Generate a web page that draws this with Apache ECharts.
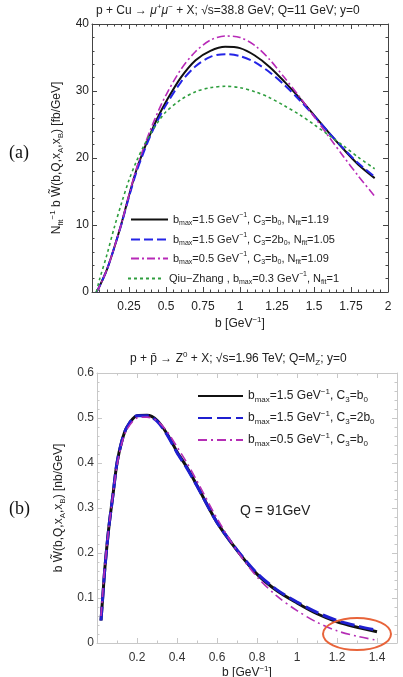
<!doctype html>
<html>
<head>
<meta charset="UTF-8" />
<title>b W(b) curves</title>
<script src="https://cdn.jsdelivr.net/npm/echarts@6/dist/echarts.min.js"></script>
<style>
  html, body { margin: 0; padding: 0; background: #fff; }
  #main { width: 403px; height: 677px; }
</style>
</head>
<body>
<div id="main"></div>
<script>
// ---- panel (a): p + Cu, Q = 11 GeV ----
const bA = [0.03, 0.05, 0.1, 0.15, 0.2, 0.25, 0.3, 0.35, 0.4, 0.45, 0.5, 0.6, 0.7, 0.8, 0.9, 1.0, 1.1, 1.2, 1.3, 1.4, 1.5, 1.6, 1.7, 1.8, 1.91];
const aBlack   = [0, 0.8, 3.3, 6.6, 10.3, 14.4, 18.2, 21.2, 23.9, 26.3, 28.4, 32.0, 34.6, 36.0, 36.6, 36.4, 35.3, 33.6, 31.4, 29.0, 26.4, 23.8, 21.3, 19.0, 17.0];
const aBlue    = [0, 0.8, 3.3, 6.6, 10.2, 14.2, 17.9, 20.9, 23.6, 25.9, 27.9, 31.3, 33.7, 35.1, 35.5, 35.2, 34.3, 32.8, 30.9, 28.7, 26.3, 23.8, 21.4, 19.2, 17.2];
const aMagenta = [0, 0.8, 3.3, 6.6, 10.3, 14.5, 18.4, 21.6, 24.5, 27.1, 29.4, 33.2, 35.9, 37.6, 38.2, 38.0, 36.8, 34.7, 32.0, 29.2, 26.2, 23.2, 20.2, 17.3, 14.3];
const aGreen   = [0, 1.8, 5.5, 9.6, 13.3, 16.7, 19.5, 21.8, 23.8, 25.5, 26.9, 28.7, 29.9, 30.5, 30.7, 30.5, 29.9, 29.0, 27.8, 26.5, 25.0, 23.4, 21.8, 20.1, 18.4];

// ---- panel (b): p + pbar -> Z0, Q = MZ ----
const bB = [0.02, 0.03, 0.04, 0.06, 0.08, 0.1, 0.125, 0.15, 0.2, 0.25, 0.3, 0.35, 0.4, 0.45, 0.5, 0.6, 0.7, 0.8, 0.9, 1.0, 1.1, 1.2, 1.3, 1.4];
const zBlack   = [0.05, 0.11, 0.17, 0.26, 0.33, 0.40, 0.45, 0.48, 0.505, 0.506, 0.495, 0.465, 0.425, 0.39, 0.35, 0.268, 0.206, 0.153, 0.116, 0.089, 0.065, 0.047, 0.035, 0.025];
const zBlue    = [0.05, 0.11, 0.17, 0.26, 0.33, 0.40, 0.45, 0.48, 0.505, 0.505, 0.493, 0.463, 0.423, 0.388, 0.349, 0.268, 0.207, 0.155, 0.118, 0.091, 0.068, 0.05, 0.038, 0.028];
const zMagenta = [0.06, 0.12, 0.175, 0.26, 0.33, 0.395, 0.445, 0.475, 0.5, 0.502, 0.494, 0.47, 0.436, 0.40, 0.36, 0.277, 0.205, 0.147, 0.104, 0.072, 0.046, 0.027, 0.015, 0.006];

const FONT = '"Liberation Sans", Arial, sans-serif';

function pairs(xs, ys) {
  return xs.map((x, i) => [x, ys[i]]);
}

// rich text pieces for sub/superscripts
function richSet(size) {
  const base = { fontFamily: FONT, fontWeight: 'normal', color: '#222' };
  return {
    t: Object.assign({ fontSize: size, lineHeight: size + 4 }, base),
    it: Object.assign({ fontSize: size, lineHeight: size + 4, fontStyle: 'italic' }, base),
    sub: Object.assign({ fontSize: size - 4, lineHeight: size - 3, verticalAlign: 'bottom' }, base),
    sup: Object.assign({ fontSize: size - 4, lineHeight: size - 3, verticalAlign: 'top' }, base)
  };
}

const legendText = {
  a1: '{t|b}{sub|max}{t|=1.5 GeV}{sup|−1}{t|, C}{sub|3}{t|=b}{sub|0}{t|, N}{sub|fit}{t|=1.19}',
  a2: '{t|b}{sub|max}{t|=1.5 GeV}{sup|−1}{t|, C}{sub|3}{t|=2b}{sub|0}{t|, N}{sub|fit}{t|=1.05}',
  a3: '{t|b}{sub|max}{t|=0.5 GeV}{sup|−1}{t|, C}{sub|3}{t|=b}{sub|0}{t|, N}{sub|fit}{t|=1.09}',
  a4: '{t|Qiu−Zhang , b}{sub|max}{t|=0.3 GeV}{sup|−1}{t|, N}{sub|fit}{t|=1}',
  b1: '{t|b}{sub|max}{t|=1.5 GeV}{sup|−1}{t|, C}{sub|3}{t|=b}{sub|0}',
  b2: '{t|b}{sub|max}{t|=1.5 GeV}{sup|−1}{t|, C}{sub|3}{t|=2b}{sub|0}',
  b3: '{t|b}{sub|max}{t|=0.5 GeV}{sup|−1}{t|, C}{sub|3}{t|=b}{sub|0}'
};

function oneLegend(name, left, top, width, size) {
  return {
    data: [name],
    left: left,
    top: top,
    padding: 0,
    itemWidth: width,
    itemHeight: 12,
    itemGap: 0,
    selectedMode: false,
    itemStyle: { opacity: 0 },
    formatter: n => legendText[n],
    textStyle: { rich: richSet(size) }
  };
}

function frameAxis(kind, grid, pos, range, frameColor, labelColor, showLabel, extra) {
  const ax = {
    gridIndex: grid,
    type: 'value',
    position: pos,
    min: range[0],
    max: range[1],
    interval: range[2],
    axisLine: { show: true, onZero: false, lineStyle: { color: frameColor, width: 1 } },
    axisTick: { show: true, inside: true, length: 5, lineStyle: { color: frameColor } },
    minorTick: { show: true, splitNumber: range[3], length: 2.5, lineStyle: { color: frameColor } },
    splitLine: { show: false },
    axisLabel: {
      show: showLabel,
      color: labelColor,
      fontSize: 12,
      fontFamily: FONT,
      margin: kind === 'x' ? 9 : 3,
      showMaxLabel: kind === 'x' && range[1] === 1.5 ? false : null,
      formatter: v => (kind === 'x' && v === 0) ? '' : String(v)
    }
  };
  return Object.assign(ax, extra || {});
}

const nameRich = richSet(12);

const option = {
  animation: false,
  backgroundColor: '#fff',
  title: [
    {
      text: '{t|p + Cu → }{it|μ}{sup|+}{it|μ}{sup|−}{t| + X; √s=38.8 GeV; Q=11 GeV; y=0}',
      left: 96, top: 3, padding: 0,
      textStyle: { fontWeight: 'normal', rich: richSet(12) }
    },
    {
      text: '{t|p + p̄ → Z}{sup|0}{t| + X; √s=1.96 TeV; Q=M}{sub|Z}{t|; y=0}',
      left: 130, top: 351, padding: 0,
      textStyle: { fontWeight: 'normal', rich: richSet(12) }
    }
  ],
  grid: [
    { left: 92, right: 15, top: 24, bottom: 385, outerBoundsMode: 'none' },
    { left: 97, right: 6, top: 373, bottom: 34, outerBoundsMode: 'none' }
  ],
  xAxis: [
    frameAxis('x', 0, 'bottom', [0, 2, 0.25, 5], '#444', '#222', true, {
      name: '{t|b [GeV}{sup|−1}{t|]}', nameLocation: 'middle', nameGap: 24,
      nameTextStyle: { rich: nameRich }
    }),
    frameAxis('x', 0, 'top', [0, 2, 0.25, 5], '#444', '#222', false),
    frameAxis('x', 1, 'bottom', [0, 1.5, 0.2, 2], '#c8c8c8', '#333', true, {
      name: '{t|b [GeV}{sup|−1}{t|]}', nameLocation: 'middle', nameGap: 22,
      nameTextStyle: { rich: nameRich }
    }),
    frameAxis('x', 1, 'top', [0, 1.5, 0.2, 2], '#c8c8c8', '#333', false)
  ],
  yAxis: [
    frameAxis('y', 0, 'left', [0, 40, 10, 5], '#444', '#222', true, {
      name: '{t|N}{sub|fit}{sup|−1}{t| b W\u0303(b,Q,x}{sub|A}{t|,x}{sub|B}{t|) [fb/GeV]}',
      nameLocation: 'middle', nameGap: 19, nameRotate: 90,
      nameTextStyle: { rich: nameRich }
    }),
    frameAxis('y', 0, 'right', [0, 40, 10, 5], '#444', '#222', false),
    frameAxis('y', 1, 'left', [0, 0.6, 0.1, 5], '#c8c8c8', '#333', true, {
      name: '{t|b W\u0303(b,Q,x}{sub|A}{t|,x}{sub|B}{t|) [nb/GeV]}',
      nameLocation: 'middle', nameGap: 20, nameRotate: 90,
      nameTextStyle: { rich: nameRich }
    }),
    frameAxis('y', 1, 'right', [0, 0.6, 0.1, 5], '#c8c8c8', '#333', false)
  ],
  legend: [
    oneLegend('a1', 130, 212, 37, 11),
    oneLegend('a2', 130, 232, 37, 11),
    oneLegend('a3', 130, 251, 37, 11),
    oneLegend('a4', 127, 271, 36, 11),
    oneLegend('b1', 197, 388, 45, 12),
    oneLegend('b2', 197, 410, 45, 12),
    oneLegend('b3', 197, 432, 45, 12)
  ],
  series: [
    { name: 'a1', type: 'line', xAxisIndex: 0, yAxisIndex: 0, data: pairs(bA, aBlack), smooth: 0.3, symbol: 'none',
      lineStyle: { color: '#111', width: 2 }, itemStyle: { color: '#111' } },
    { name: 'a2', type: 'line', xAxisIndex: 0, yAxisIndex: 0, data: pairs(bA, aBlue), smooth: 0.3, symbol: 'none',
      lineStyle: { color: '#2424e6', width: 2, type: [9, 4] }, itemStyle: { color: '#2424e6' } },
    { name: 'a3', type: 'line', xAxisIndex: 0, yAxisIndex: 0, data: pairs(bA, aMagenta), smooth: 0.3, symbol: 'none',
      lineStyle: { color: '#b82ab8', width: 1.6, type: [8, 3, 2, 3] }, itemStyle: { color: '#b82ab8' } },
    { name: 'a4', type: 'line', xAxisIndex: 0, yAxisIndex: 0, data: pairs(bA, aGreen), smooth: 0.3, symbol: 'none',
      lineStyle: { color: '#2e9e3e', width: 1.6, type: [3, 3] }, itemStyle: { color: '#2e9e3e' } },

    { name: 'b1', type: 'line', xAxisIndex: 2, yAxisIndex: 2, data: pairs(bB, zBlack), smooth: 0.3, symbol: 'none',
      lineStyle: { color: '#111', width: 3 }, itemStyle: { color: '#111' } },
    { name: 'b2', type: 'line', xAxisIndex: 2, yAxisIndex: 2, data: pairs(bB, zBlue), smooth: 0.3, symbol: 'none',
      lineStyle: { color: '#1f1fd0', width: 3, type: [14, 5] }, itemStyle: { color: '#1f1fd0' } },
    { name: 'b3', type: 'line', xAxisIndex: 2, yAxisIndex: 2, data: pairs(bB, zMagenta), smooth: 0.3, symbol: 'none',
      lineStyle: { color: '#b52eb5', width: 1.6, type: [9, 4, 2, 4] }, itemStyle: { color: '#b52eb5' } }
  ],
  graphic: [
    { type: 'text', left: 9, top: 144, style: { text: '(a)', font: '18px "Liberation Serif", "Times New Roman", serif', fill: '#111' } },
    { type: 'text', left: 9, top: 500, style: { text: '(b)', font: '18px "Liberation Serif", "Times New Roman", serif', fill: '#111' } },
    { type: 'text', left: 240, top: 504, style: { text: 'Q = 91GeV', font: '14px ' + FONT, fill: '#222' } },
    { type: 'ellipse', shape: { cx: 357, cy: 634, rx: 34, ry: 16 }, style: { fill: 'none', stroke: '#e8643a', lineWidth: 2 }, z: 100 }
  ]
};

const chart = echarts.init(document.getElementById('main'));
chart.setOption(option);
</script>
</body>
</html>
